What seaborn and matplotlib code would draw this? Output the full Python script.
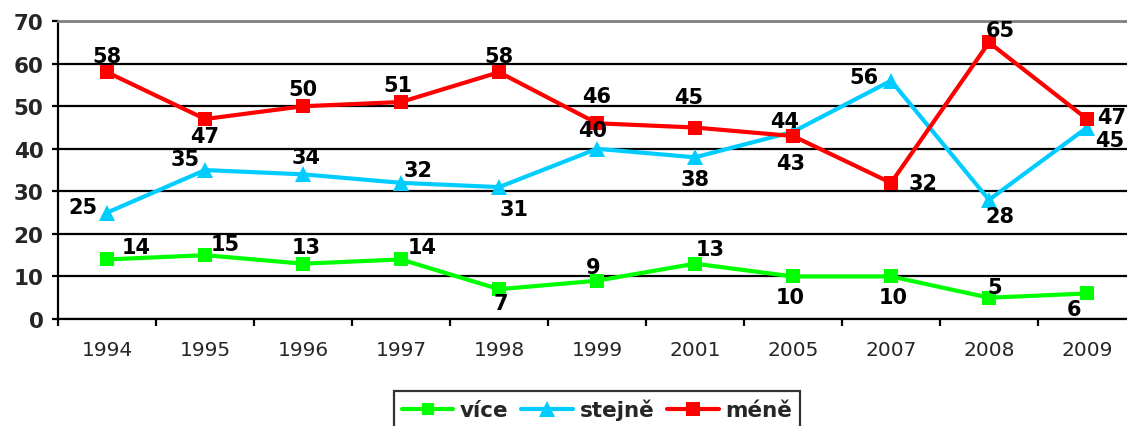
import matplotlib
matplotlib.use("Agg")
import matplotlib.pyplot as plt
import seaborn as sns
import numpy as np
import pandas as pd
from matplotlib.lines import Line2D

# data
years = ["1994", "1995", "1996", "1997", "1998", "1999", "2001", "2005", "2007", "2008", "2009"]
vice = [14, 15, 13, 14, 7, 9, 13, 10, 10, 5, 6]
stejne = [25, 35, 34, 32, 31, 40, 38, 44, 56, 28, 45]
mene = [58, 47, 50, 51, 58, 46, 45, 43, 32, 65, 47]
series_names = ["více", "stejně", "méně"]

# label offsets in pixels (dx, dy up) -- hand placed like in the original
off_vice = [(29, 12), (20, 11), (3, 17), (21, 12), (2, -14), (-4, 14), (15, 15), (-3, -21), (2, -21), (6, 11), (-13, -16)]
off_stejne = [(-24, 6), (-20, 11), (3, 17), (17, 13), (15, -22), (-4, 19), (0, -22), (-8, 11), (-27, 4), (11, -16), (23, -12)]
off_mene = [(0, 16), (0, -17), (0, 17), (-3, 17), (0, 16), (0, 27), (-6, 31), (-2, -27), (32, 0), (11, 12), (25, 2)]

colors = {"více": "#00FF00", "stejně": "#00CCFF", "méně": "#FF0000"}
markers = {"více": "s", "stejně": "^", "méně": "s"}
msizes = {"více": 9.5, "stejně": 12, "méně": 10}

sns.set_style("white")
plt.rcParams["font.family"] = ["DejaVu Sans"]

fig = plt.figure(figsize=(11.27, 4.27), dpi=100)
ax = fig.add_axes([0.0515, 0.2506, 0.9565, 0.6975])

values = {"více": vice, "stejně": stejne, "méně": mene}
offsets = {"více": off_vice, "stejně": off_stejne, "méně": off_mene}

for name in series_names:
    df = pd.DataFrame({"rok": years, "hodnota": values[name]})
    sns.lineplot(data=df, x="rok", y="hodnota", ax=ax, color=colors[name],
                 marker=markers[name], markersize=msizes[name], markeredgewidth=0,
                 linewidth=3, sort=False, label=name, legend=False)
    for i, (yr, v) in enumerate(zip(years, values[name])):
        dx, dy = offsets[name][i]
        ax.annotate(str(v), (i, v), xytext=(dx * 0.72, dy * 0.72), textcoords="offset points",
                    ha="center", va="center", fontsize=15, fontweight="bold", color="black",
                    annotation_clip=False)

ax.set_ylim(0, 70)
ax.set_xlim(-0.5, len(years) - 0.5)
ax.set_yticks(np.arange(0, 71, 10))
ax.yaxis.grid(True, color="black", linewidth=1.6)
ax.set_axisbelow(True)
ax.set_xlabel("")
ax.set_ylabel("")

for lab in ax.get_yticklabels():
    lab.set_fontweight("bold")
ax.tick_params(axis="y", labelsize=15.5, length=4.5, width=1.6, direction="out", pad=6, left=True, color="black")
ax.tick_params(axis="x", which="major", labelsize=14.5, length=0, pad=15)
ax.set_xticks(np.arange(-0.5, len(years)), minor=True)
ax.tick_params(axis="x", which="minor", length=5, width=1.6, direction="out", bottom=True, color="black")

for side in ["left", "bottom"]:
    ax.spines[side].set_color("black")
    ax.spines[side].set_linewidth(1.6)
ax.spines["top"].set_color("#808080")
ax.spines["top"].set_linewidth(2)
ax.spines["right"].set_visible(False)

handles = [Line2D([0], [0], color=colors[n], marker=markers[n], markersize=msizes[n] - 0.5,
                  markeredgewidth=0, linewidth=3) for n in series_names]
leg = fig.legend(handles, series_names, loc="upper center", bbox_to_anchor=(597 / 1127, 1 - 392 / 427),
                 ncol=3, frameon=True, fancybox=False, edgecolor="black", handlelength=2.4,
                 columnspacing=0.6, handletextpad=0.3, borderpad=0.35, borderaxespad=0,
                 prop={"weight": "bold", "size": 15.5})
leg.get_frame().set_linewidth(1.6)

fig.savefig("out.png", dpi=100)
